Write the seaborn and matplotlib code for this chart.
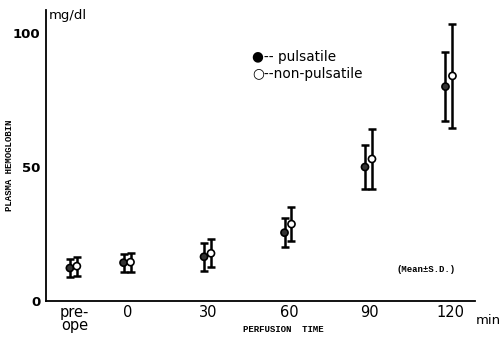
import matplotlib
matplotlib.use("Agg")
import matplotlib.pyplot as plt
import seaborn as sns
import pandas as pd
import numpy as np

# Data
time_labels = ["pre-\nope", "0", "30", "60", "90", "120"]
time_pos = [-20, 0, 30, 60, 90, 120]
puls_mean = [12.3, 14.3, 16.5, 25.5, 50.0, 80.0]
puls_sd = [3.4, 3.4, 5.2, 5.3, 8.2, 12.8]
nonp_mean = [13.0, 14.5, 17.8, 28.7, 53.0, 84.0]
nonp_sd = [3.6, 3.5, 5.2, 6.3, 11.2, 19.4]
groups = ["pulsatile", "non-pulsatile"]

sns.set_theme(style="white")
plt.rcParams['font.family'] = ['DejaVu Sans']
plt.rcParams['text.color'] = 'black'
plt.rcParams['xtick.color'] = 'black'
plt.rcParams['ytick.color'] = 'black'

df = pd.DataFrame({
    "time": time_pos * 2,
    "value": puls_mean + nonp_mean,
    "sd": puls_sd + nonp_sd,
    "group": [groups[0]] * 6 + [groups[1]] * 6,
})
offsets = {groups[0]: -1.7, groups[1]: 0.9}
df["x"] = df["time"] + df["group"].map(offsets)

fig = plt.figure(figsize=(5.01, 3.39), dpi=100)
ax = fig.add_axes([46/501, 1-301/339, (475-46)/501, (301-10)/339])

for g in groups:
    sub = df[df["group"] == g]
    ax.errorbar(sub["x"], sub["value"], yerr=sub["sd"], fmt="none",
                ecolor="black", elinewidth=1.8, capsize=3, capthick=1.8, zorder=2)

sns.scatterplot(data=df, x="x", y="value", hue="group", style="group",
                palette={groups[0]: "#333333", groups[1]: "white"},
                markers={groups[0]: "o", groups[1]: "o"},
                edgecolor="black", linewidth=1.2, s=26, legend=False, ax=ax, zorder=3)

ax.set_xlim(-30.6, 129.3)
ax.set_ylim(0, 108.6)
for s in ["top", "right"]:
    ax.spines[s].set_visible(False)
for s in ["left", "bottom"]:
    ax.spines[s].set_color("black")
    ax.spines[s].set_linewidth(1.3)

ax.set_xticks(time_pos)
ax.set_xticklabels(time_labels, fontsize=10.5, linespacing=0.8, family="DejaVu Sans")
ax.tick_params(axis="x", direction="in", length=4, width=1, pad=3, colors="black")
ax.set_yticks([0, 50, 100])
ax.set_yticklabels(["0", "50", "100"], fontsize=9.5, fontweight="bold")
ax.tick_params(axis="y", direction="in", length=4, width=1, pad=4, colors="black")
ax.set_xlabel("")
ax.set_ylabel("")

fig.text(10/501, 1-165/339, "PLASMA HEMOGLOBIN", rotation=90, ha="center", va="center",
         fontsize=6.5, family="Liberation Mono", fontweight="bold")
fig.text(283/501, 1-330/339, "PERFUSION  TIME", ha="center", va="center",
         fontsize=6.5, family="Liberation Mono", fontweight="bold")
fig.text(476/501, 1-321/339, "min", ha="left", va="center", fontsize=9.5)
fig.text(49/501, 1-16/339, "mg/dl", ha="left", va="center", fontsize=9.5)
fig.text(396/501, 1-270/339, "(Mean\u00b1S.D.)", ha="left", va="center",
         fontsize=6.5, family="Liberation Mono", fontweight="bold")
fig.text(252/501, 1-57/339, "\u25cf-- pulsatile", ha="left", va="center", fontsize=9.8)
fig.text(252/501, 1-74/339, "\u25cb--non-pulsatile", ha="left", va="center", fontsize=9.8)

fig.savefig("out.png", dpi=100)
